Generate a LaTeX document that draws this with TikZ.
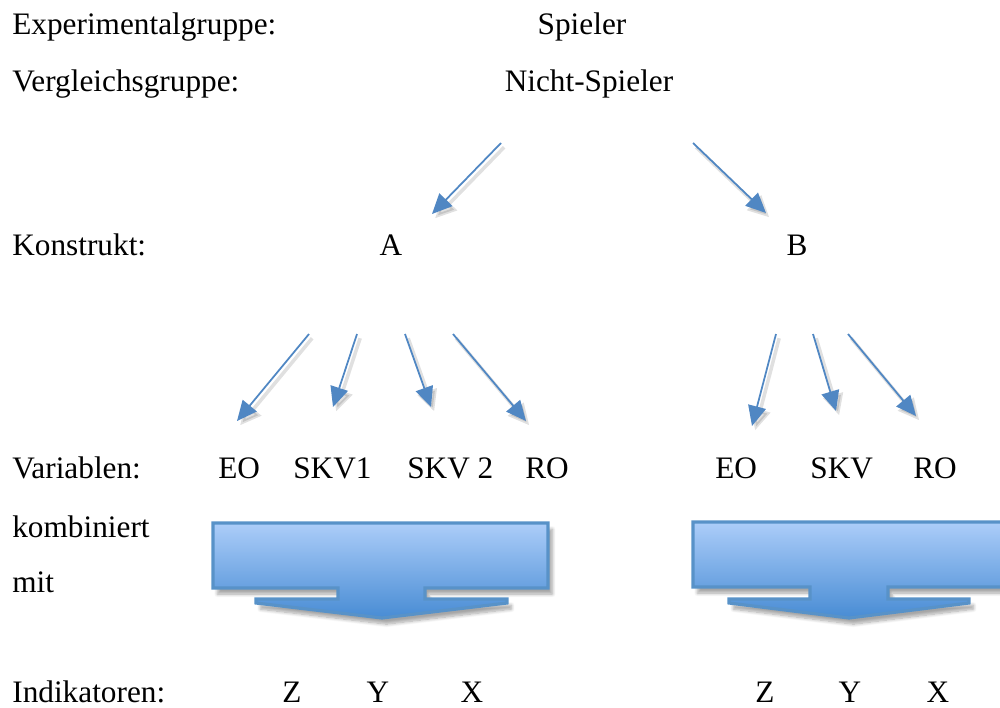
\documentclass[tikz,border=0pt]{standalone}
\usepackage{fontspec}
\setmainfont{Liberation Serif}
\usetikzlibrary{arrows.meta,shadows.blur}
\definecolor{arrblue}{RGB}{80,135,195}
\definecolor{bordblue}{RGB}{88,146,200}
\definecolor{topblue}{RGB}{172,205,249}
\definecolor{botblue}{RGB}{72,140,212}
\begin{document}
\begin{tikzpicture}[x=0.02cm,y=-0.02cm,
  txt/.style={inner sep=0pt, font=\fontsize{17.8}{21}\selectfont},
  lbl/.style={txt, anchor=base west},
  ctr/.style={txt, anchor=base},
  link/.style={draw=arrblue, line width=1pt, -{Triangle[length=0.4cm,width=0.36cm]}},
  linkshadow/.style={draw=black, opacity=0.12, line width=2pt, -{Triangle[length=0.42cm,width=0.4cm]},
    transform canvas={xshift=1.8pt,yshift=-2.4pt}},
  blockarrow/.style={top color=topblue, bottom color=botblue, draw=bordblue, line width=1.8pt,
    line join=miter, blur shadow={shadow xshift=2.5pt, shadow yshift=-3.5pt, shadow blur steps=8, shadow opacity=35}}]
\useasboundingbox (0,0) rectangle (1000,707);

% labels
\node[lbl] (exp) at (12,34) {Experimentalgruppe:};
\node[ctr] (spieler) at (582,34) {Spieler};
\node[lbl] (verg) at (12,91) {Vergleichsgruppe:};
\node[ctr] (nicht) at (589,91) {Nicht-Spieler};
\node[lbl] (kons) at (12,255) {Konstrukt:};
\node[ctr] (A) at (391,255) {A};
\node[ctr] (B) at (797,255) {B};
\node[lbl] (var) at (12,478) {Variablen:};
\node[lbl] (eoA) at (218,478) {EO};
\node[lbl] (skv1) at (293,478) {SKV1};
\node[lbl] (skv2) at (407,478) {SKV 2};
\node[lbl] (roA) at (525,478) {RO};
\node[lbl] (eoB) at (715,478) {EO};
\node[lbl] (skvB) at (810,478) {SKV};
\node[lbl] (roB) at (913,478) {RO};
\node[lbl] (komb) at (12,537) {kombiniert};
\node[lbl] (mit) at (12,592) {mit};
\node[lbl] (ind) at (12,702) {Indikatoren:};
\node[ctr] (zA) at (292,702) {Z};
\node[ctr] (yA) at (378,702) {Y};
\node[ctr] (xA) at (472,702) {X};
\node[ctr] (zB) at (765,702) {Z};
\node[ctr] (yB) at (850,702) {Y};
\node[ctr] (xB) at (938,702) {X};

% connector end points
\coordinate (s1) at (501,143); \coordinate (t1) at (432,214);
\coordinate (s2) at (693,143); \coordinate (t2) at (766,213);
\coordinate (sa1) at (309,334); \coordinate (ta1) at (237,421);
\coordinate (sa2) at (357,334); \coordinate (ta2) at (333,407);
\coordinate (sa3) at (405,334); \coordinate (ta3) at (431,407);
\coordinate (sa4) at (453,334); \coordinate (ta4) at (526,421);
\coordinate (sb1) at (776,334); \coordinate (tb1) at (752,426);
\coordinate (sb2) at (813,334); \coordinate (tb2) at (836,411);
\coordinate (sb3) at (848,334); \coordinate (tb3) at (916,416);

% shadows of connectors
\foreach \s/\t in {s1/t1,s2/t2,sa1/ta1,sa2/ta2,sa3/ta3,sa4/ta4,sb1/tb1,sb2/tb2,sb3/tb3}
  \draw[linkshadow] (\s) -- (\t);
% connectors
\foreach \s/\t in {s1/t1,s2/t2,sa1/ta1,sa2/ta2,sa3/ta3,sa4/ta4,sb1/tb1,sb2/tb2,sb3/tb3}
  \draw[link] (\s) -- (\t);

% block arrows
\path[blockarrow] (213,523) -- (548,523) -- (548,588) -- (425,588) -- (425,599) -- (507,599)
  -- (507,603) -- (382,618) -- (256,603) -- (256,599) -- (338,599) -- (338,588) -- (213,588) -- cycle;
\path[blockarrow] (693,522) -- (1010,522) -- (1010,587) -- (888,587) -- (888,599) -- (969,599)
  -- (969,603) -- (849,618) -- (729,603) -- (729,599) -- (810,599) -- (810,587) -- (693,587) -- cycle;
\end{tikzpicture}
\end{document}
